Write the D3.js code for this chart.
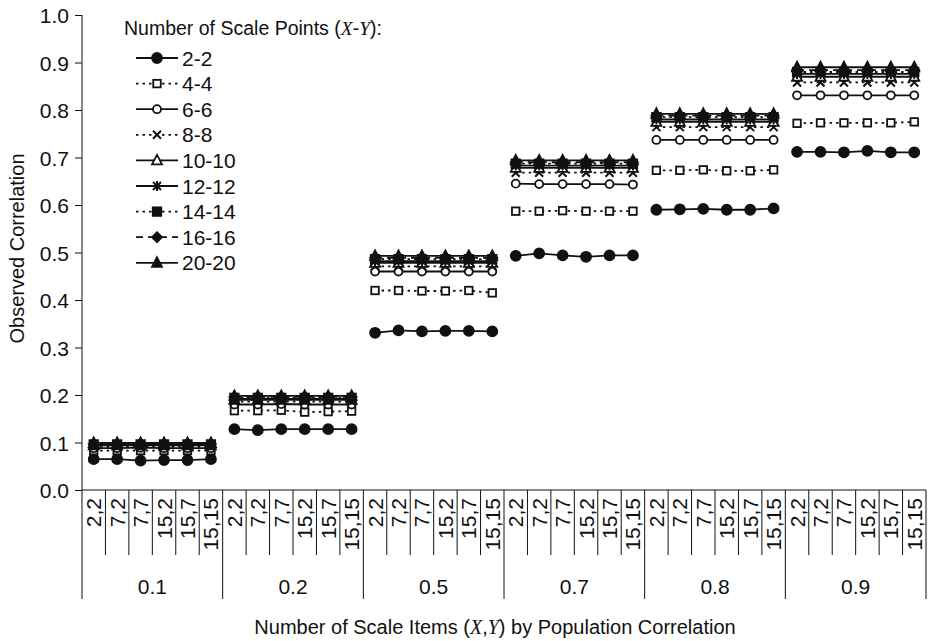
<!DOCTYPE html>
<html>
<head>
<meta charset="utf-8">
<script src="https://cdn.jsdelivr.net/npm/d3@7/dist/d3.min.js"></script>
<style>
  body { margin: 0; background: #fff; }
  text { font-family: "Liberation Sans", Arial, sans-serif; fill: #111; }
</style>
</head>
<body>
<svg id="chart" width="933" height="641"></svg>
<script>
(function () {
  'use strict';

  // population correlations (outer groups) and item combos (inner categories)
  var groups = ['0.1', '0.2', '0.5', '0.7', '0.8', '0.9'];
  var items = ['2,2', '7,2', '7,7', '15,2', '15,7', '15,15'];
  var seriesNames = ['2-2', '4-4', '6-6', '8-8', '10-10', '12-12', '14-14', '16-16', '20-20'];

  // observed correlation, one row per series, 6 values per group
  var v22 = [
    [0.065, 0.065, 0.062, 0.063, 0.063, 0.065],
    [0.128, 0.126, 0.128, 0.128, 0.128, 0.128],
    [0.331, 0.336, 0.334, 0.335, 0.335, 0.334],
    [0.493, 0.498, 0.494, 0.491, 0.494, 0.494],
    [0.590, 0.591, 0.592, 0.590, 0.590, 0.593],
    [0.712, 0.712, 0.711, 0.714, 0.711, 0.711]
  ];
  var v44 = [
    [0.083, 0.083, 0.083, 0.083, 0.083, 0.083],
    [0.167, 0.167, 0.168, 0.164, 0.165, 0.166],
    [0.420, 0.420, 0.419, 0.419, 0.420, 0.415],
    [0.587, 0.587, 0.588, 0.587, 0.587, 0.587],
    [0.673, 0.673, 0.674, 0.672, 0.672, 0.674],
    [0.772, 0.773, 0.773, 0.773, 0.773, 0.775]
  ];
  var v66 = [
    [0.088, 0.088, 0.089, 0.088, 0.088, 0.088],
    [0.180, 0.180, 0.181, 0.180, 0.180, 0.180],
    [0.460, 0.460, 0.460, 0.460, 0.460, 0.460],
    [0.645, 0.644, 0.644, 0.644, 0.644, 0.643],
    [0.737, 0.737, 0.737, 0.737, 0.737, 0.737],
    [0.831, 0.831, 0.831, 0.831, 0.831, 0.831]
  ];
  var v88 = [
    [0.091, 0.091, 0.091, 0.091, 0.091, 0.091],
    [0.186, 0.186, 0.186, 0.186, 0.186, 0.186],
    [0.471, 0.471, 0.471, 0.471, 0.471, 0.471],
    [0.668, 0.668, 0.668, 0.668, 0.668, 0.668],
    [0.764, 0.764, 0.764, 0.764, 0.764, 0.764],
    [0.858, 0.858, 0.858, 0.858, 0.858, 0.858]
  ];
  var v1010 = [
    [0.094, 0.094, 0.094, 0.094, 0.094, 0.094],
    [0.190, 0.190, 0.190, 0.190, 0.190, 0.190],
    [0.478, 0.478, 0.478, 0.478, 0.478, 0.478],
    [0.678, 0.678, 0.678, 0.678, 0.678, 0.678],
    [0.775, 0.775, 0.775, 0.775, 0.775, 0.775],
    [0.870, 0.870, 0.870, 0.870, 0.870, 0.870]
  ];
  var v1212 = [
    [0.095, 0.095, 0.095, 0.095, 0.095, 0.095],
    [0.192, 0.192, 0.192, 0.192, 0.192, 0.192],
    [0.482, 0.482, 0.482, 0.482, 0.482, 0.482],
    [0.683, 0.683, 0.683, 0.683, 0.683, 0.683],
    [0.780, 0.780, 0.780, 0.780, 0.780, 0.780],
    [0.876, 0.876, 0.876, 0.876, 0.876, 0.876]
  ];
  var v1414 = [
    [0.096, 0.096, 0.096, 0.096, 0.096, 0.096],
    [0.194, 0.194, 0.194, 0.194, 0.194, 0.194],
    [0.486, 0.486, 0.486, 0.486, 0.486, 0.486],
    [0.687, 0.687, 0.687, 0.687, 0.687, 0.687],
    [0.785, 0.785, 0.785, 0.785, 0.785, 0.785],
    [0.880, 0.880, 0.880, 0.880, 0.880, 0.880]
  ];
  var v1616 = [
    [0.097, 0.097, 0.097, 0.097, 0.097, 0.097],
    [0.196, 0.196, 0.196, 0.196, 0.196, 0.196],
    [0.489, 0.489, 0.489, 0.489, 0.489, 0.489],
    [0.690, 0.690, 0.690, 0.690, 0.690, 0.690],
    [0.788, 0.788, 0.788, 0.788, 0.788, 0.788],
    [0.884, 0.884, 0.884, 0.884, 0.884, 0.884]
  ];
  var v2020 = [
    [0.099, 0.099, 0.099, 0.099, 0.099, 0.099],
    [0.198, 0.198, 0.198, 0.198, 0.198, 0.198],
    [0.493, 0.493, 0.493, 0.493, 0.493, 0.493],
    [0.694, 0.694, 0.694, 0.694, 0.694, 0.694],
    [0.792, 0.792, 0.792, 0.792, 0.792, 0.792],
    [0.890, 0.890, 0.890, 0.890, 0.890, 0.890]
  ];
  var yTicks = [0, 0.1, 0.2, 0.3, 0.4, 0.5, 0.6, 0.7, 0.8, 0.9, 1.0];

  var seriesValues = [v22, v44, v66, v88, v1010, v1212, v1414, v1616, v2020];
  var styles = [
    { dash: null, marker: 'circle', fill: true },
    { dash: '2.5,4', marker: 'square', fill: false },
    { dash: null, marker: 'circle', fill: false },
    { dash: '2.5,4', marker: 'cross', fill: false },
    { dash: null, marker: 'triangle', fill: false },
    { dash: null, marker: 'asterisk', fill: false },
    { dash: '2.5,4', marker: 'square', fill: true },
    { dash: '7,5', marker: 'diamond', fill: true },
    { dash: null, marker: 'triangle', fill: true }
  ];

  var svg = d3.select('#chart');
  var left = 82, right = 926, top = 15, bottom = 490;
  var fs = 21;

  var cats = [];
  groups.forEach(function (g) {
    items.forEach(function (it) { cats.push(g + '|' + it); });
  });

  var x = d3.scaleBand().domain(cats).range([left, right]);
  var y = d3.scaleLinear().domain([0, 1]).range([bottom, top]);

  // y axis
  var yAxis = svg.append('g')
    .attr('transform', 'translate(' + left + ',0)')
    .call(d3.axisLeft(y).tickValues(yTicks).tickFormat(d3.format('.1f')).tickSize(7));
  yAxis.select('.domain').attr('stroke', '#111').attr('d', 'M0,' + top + 'V' + bottom);
  yAxis.selectAll('line').attr('stroke', '#111');
  yAxis.selectAll('text').attr('font-size', fs).attr('x', -13).attr('dy', '0.36em')
    .style('font-family', '"Liberation Sans", Arial, sans-serif');

  // x axis baseline
  svg.append('line').attr('x1', left).attr('x2', right).attr('y1', bottom).attr('y2', bottom)
    .attr('stroke', '#111');

  // inner ticks between categories
  var axisG = svg.append('g');
  cats.forEach(function (c, i) {
    var isGroupEdge = i % items.length === 0;
    var xx = x(c);
    axisG.append('line').attr('x1', xx).attr('x2', xx).attr('y1', bottom)
      .attr('y2', isGroupEdge ? 599 : 555).attr('stroke', '#111');
  });
  axisG.append('line').attr('x1', right).attr('x2', right).attr('y1', bottom).attr('y2', 599)
    .attr('stroke', '#111');

  cats.forEach(function (c) {
    var cx = x(c) + x.bandwidth() / 2;
    axisG.append('text')
      .attr('transform', 'translate(' + (cx + 7.5) + ',' + (bottom + 8) + ') rotate(-90)')
      .attr('text-anchor', 'end')
      .attr('font-size', fs)
      .text(c.split('|')[1]);
  });

  groups.forEach(function (g) {
    var x0 = x(g + '|' + items[0]);
    var x1 = x(g + '|' + items[items.length - 1]) + x.bandwidth();
    axisG.append('text').attr('x', (x0 + x1) / 2).attr('y', 594)
      .attr('text-anchor', 'middle').attr('font-size', fs).text(g);
  });

  // axis titles
  var xt = svg.append('text').attr('x', (left + right) / 2 - 9).attr('y', 634)
    .attr('text-anchor', 'middle').attr('font-size', 20);
  xt.append('tspan').text('Number of Scale Items (');
  xt.append('tspan').attr('font-family', '"Liberation Serif", serif').attr('font-style', 'italic').text('X');
  xt.append('tspan').text(',');
  xt.append('tspan').attr('font-family', '"Liberation Serif", serif').attr('font-style', 'italic').text('Y');
  xt.append('tspan').text(') by Population Correlation');

  svg.append('text').attr('transform', 'translate(24,' + ((top + bottom) / 2 - 4) + ') rotate(-90)')
    .attr('text-anchor', 'middle').attr('font-size', 20).text('Observed Correlation');

  function drawMarker(sel, st, cx, cy) {
    var fill = st.fill ? '#111' : '#fff';
    var m;
    if (st.marker === 'circle') {
      m = sel.append('circle').attr('cx', cx).attr('cy', cy).attr('r', st.fill ? 5 : 4);
    } else if (st.marker === 'square') {
      var s = st.fill ? 8.5 : 7.5;
      m = sel.append('rect').attr('x', cx - s / 2).attr('y', cy - s / 2).attr('width', s).attr('height', s);
    } else if (st.marker === 'triangle') {
      m = sel.append('path').attr('d', 'M' + cx + ',' + (cy - 5.5) + 'L' + (cx + 5) + ',' + (cy + 4) + 'L' + (cx - 5) + ',' + (cy + 4) + 'Z');
    } else if (st.marker === 'diamond') {
      m = sel.append('path').attr('d', 'M' + cx + ',' + (cy - 5) + 'L' + (cx + 5) + ',' + cy + 'L' + cx + ',' + (cy + 5) + 'L' + (cx - 5) + ',' + cy + 'Z');
    } else if (st.marker === 'cross') {
      m = sel.append('path').attr('d', 'M' + (cx - 4) + ',' + (cy - 4) + 'L' + (cx + 4) + ',' + (cy + 4) + 'M' + (cx + 4) + ',' + (cy - 4) + 'L' + (cx - 4) + ',' + (cy + 4))
        .attr('stroke-width', 2);
    } else if (st.marker === 'asterisk') {
      m = sel.append('path').attr('d', 'M' + (cx - 4) + ',' + (cy - 4) + 'L' + (cx + 4) + ',' + (cy + 4) + 'M' + (cx + 4) + ',' + (cy - 4) + 'L' + (cx - 4) + ',' + (cy + 4) + 'M' + cx + ',' + (cy - 5) + 'V' + (cy + 5))
        .attr('stroke-width', 2);
    }
    m.attr('fill', fill).attr('stroke', '#111');
    if (!m.attr('stroke-width')) m.attr('stroke-width', 1.8);
  }

  var line = d3.line().x(function (d) { return d.x; }).y(function (d) { return d.y; });

  // series, one segment per population correlation group
  var plot = svg.append('g');
  seriesValues.forEach(function (vals, si) {
    var st = styles[si];
    var sg = plot.append('g');
    groups.forEach(function (g, gi) {
      var pts = items.map(function (it, ii) {
        return { x: x(g + '|' + it) + x.bandwidth() / 2, y: y(vals[gi][ii]) };
      });
      sg.append('path').attr('d', line(pts)).attr('fill', 'none')
        .attr('stroke', '#111').attr('stroke-width', 1.8)
        .attr('stroke-dasharray', st.dash);
      pts.forEach(function (p) { drawMarker(sg, st, p.x, p.y); });
    });
  });

  // legend
  var lg = svg.append('g');
  var lt = lg.append('text').attr('x', 124).attr('y', 35).attr('font-size', 19.5);
  lt.append('tspan').text('Number of Scale Points (');
  lt.append('tspan').attr('font-family', '"Liberation Serif", serif').attr('font-style', 'italic').text('X');
  lt.append('tspan').text('-');
  lt.append('tspan').attr('font-family', '"Liberation Serif", serif').attr('font-style', 'italic').text('Y');
  lt.append('tspan').text('):');

  seriesNames.forEach(function (name, i) {
    var st = styles[i];
    var ly = 58 + i * 25.6;
    lg.append('line').attr('x1', 136).attr('x2', 178).attr('y1', ly).attr('y2', ly)
      .attr('stroke', '#111').attr('stroke-width', 1.8).attr('stroke-dasharray', st.dash);
    drawMarker(lg, st, 157, ly);
    lg.append('text').attr('x', 182).attr('y', ly + 7.5).attr('font-size', fs).text(name);
  });
})();
</script>
</body>
</html>
